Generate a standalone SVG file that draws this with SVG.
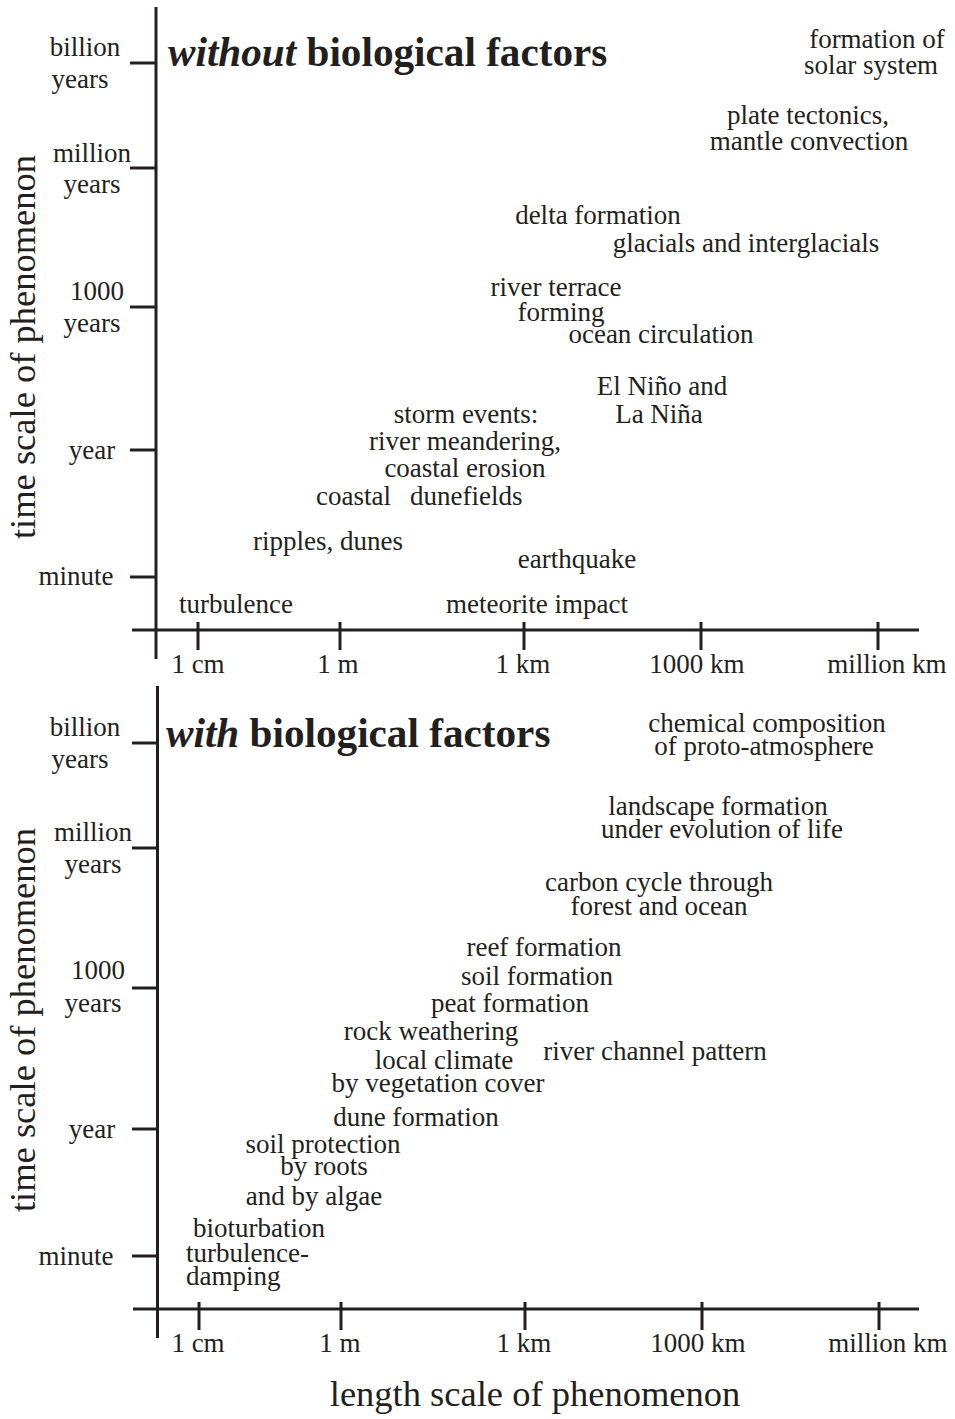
<svg xmlns="http://www.w3.org/2000/svg" width="955" height="1419" viewBox="0 0 955 1419">
<style>
.ax{stroke:#231f20;stroke-width:3;fill:none;stroke-linecap:butt}
text{font-family:"Liberation Serif","Times New Roman",serif;fill:#231f20}
.t{font-size:27px;text-anchor:middle}
.s{font-size:27px;text-anchor:start}
.ttl{font-size:41.2px;font-weight:bold}
.ttl .i{font-style:italic}
.lab{font-size:36.5px;text-anchor:middle}
</style>
<rect width="955" height="1419" fill="#ffffff"/>

<g id="top-axes" class="ax">
<line x1="156" y1="7" x2="156" y2="659"/>
<line x1="132" y1="630" x2="919" y2="630"/>
<line x1="130" y1="63" x2="156" y2="63"/>
<line x1="130" y1="168" x2="156" y2="168"/>
<line x1="130" y1="307" x2="156" y2="307"/>
<line x1="130" y1="450" x2="156" y2="450"/>
<line x1="130" y1="577" x2="156" y2="577"/>
<line x1="198" y1="622" x2="198" y2="650"/>
<line x1="340" y1="622" x2="340" y2="650"/>
<line x1="524" y1="622" x2="524" y2="650"/>
<line x1="701" y1="622" x2="701" y2="650"/>
<line x1="878" y1="622" x2="878" y2="650"/>
</g>

<g id="top-axis-labels">
<text class="t" x="85" y="56">billion</text>
<text class="t" x="80" y="88">years</text>
<text class="t" x="92" y="162">million</text>
<text class="t" x="92" y="193">years</text>
<text class="t" x="97" y="300">1000</text>
<text class="t" x="92" y="332">years</text>
<text class="t" x="92" y="459">year</text>
<text class="t" x="76" y="585">minute</text>
<text class="t" x="198" y="673">1 cm</text>
<text class="t" x="338" y="673">1 m</text>
<text class="t" x="523" y="673">1 km</text>
<text class="t" x="697" y="673">1000 km</text>
<text class="t" x="887" y="673">million km</text>
<text class="lab" transform="translate(35,347) rotate(-90)">time scale of phenomenon</text>
</g>

<g id="top-title">
<text class="ttl" x="168" y="66"><tspan class="i">without</tspan> biological factors</text>
</g>

<g id="top-phenomena">
<text class="t" x="877" y="48">formation of</text>
<text class="t" x="871" y="74">solar system</text>
<text class="t" x="808" y="124">plate tectonics,</text>
<text class="t" x="809" y="150">mantle convection</text>
<text class="t" x="598" y="224">delta formation</text>
<text class="t" x="746" y="252">glacials and interglacials</text>
<text class="t" x="556" y="296">river terrace</text>
<text class="t" x="561" y="321">forming</text>
<text class="t" x="661" y="343">ocean circulation</text>
<text class="t" x="662" y="395">El Niño and</text>
<text class="t" x="659" y="423">La Niña</text>
<text class="t" x="466" y="423">storm events:</text>
<text class="t" x="465" y="450">river meandering,</text>
<text class="t" x="465" y="477">coastal erosion</text>
<text class="s" x="316" y="505">coastal</text>
<text class="s" x="410" y="505">dunefields</text>
<text class="t" x="328" y="550">ripples, dunes</text>
<text class="t" x="577" y="568">earthquake</text>
<text class="t" x="236" y="613">turbulence</text>
<text class="t" x="537" y="613">meteorite impact</text>
</g>

<g id="bottom-axes" class="ax">
<line x1="157.5" y1="686" x2="157.5" y2="1338"/>
<line x1="133" y1="1309" x2="919" y2="1309"/>
<line x1="132" y1="743" x2="157.5" y2="743"/>
<line x1="132" y1="848" x2="157.5" y2="848"/>
<line x1="132" y1="988" x2="157.5" y2="988"/>
<line x1="132" y1="1129" x2="157.5" y2="1129"/>
<line x1="132" y1="1256" x2="157.5" y2="1256"/>
<line x1="199" y1="1302" x2="199" y2="1330"/>
<line x1="341" y1="1302" x2="341" y2="1330"/>
<line x1="525" y1="1302" x2="525" y2="1330"/>
<line x1="702" y1="1302" x2="702" y2="1330"/>
<line x1="879" y1="1302" x2="879" y2="1330"/>
</g>

<g id="bottom-axis-labels">
<text class="t" x="85" y="736">billion</text>
<text class="t" x="80" y="768">years</text>
<text class="t" x="93" y="841">million</text>
<text class="t" x="93" y="873">years</text>
<text class="t" x="98" y="979">1000</text>
<text class="t" x="93" y="1012">years</text>
<text class="t" x="92" y="1138">year</text>
<text class="t" x="76" y="1265">minute</text>
<text class="t" x="198" y="1352">1 cm</text>
<text class="t" x="340" y="1352">1 m</text>
<text class="t" x="524" y="1352">1 km</text>
<text class="t" x="698" y="1352">1000 km</text>
<text class="t" x="888" y="1352">million km</text>
<text class="lab" transform="translate(35,1020) rotate(-90)">time scale of phenomenon</text>
<text class="lab" x="535" y="1406">length scale of phenomenon</text>
</g>

<g id="bottom-title">
<text class="ttl" x="166" y="747"><tspan class="i">with</tspan> biological factors</text>
</g>

<g id="bottom-phenomena">
<text class="t" x="767" y="732">chemical composition</text>
<text class="t" x="764" y="755">of proto-atmosphere</text>
<text class="t" x="718" y="815">landscape formation</text>
<text class="t" x="722" y="838">under evolution of life</text>
<text class="t" x="659" y="891">carbon cycle through</text>
<text class="t" x="659" y="915">forest and ocean</text>
<text class="t" x="544" y="956">reef formation</text>
<text class="t" x="537" y="985">soil formation</text>
<text class="t" x="510" y="1012">peat formation</text>
<text class="t" x="431" y="1040">rock weathering</text>
<text class="t" x="444" y="1069">local climate</text>
<text class="t" x="438" y="1092">by vegetation cover</text>
<text class="t" x="655" y="1060">river channel pattern</text>
<text class="t" x="416" y="1126">dune formation</text>
<text class="t" x="323" y="1153">soil protection</text>
<text class="t" x="324" y="1175">by roots</text>
<text class="t" x="314" y="1205">and by algae</text>
<text class="t" x="259" y="1237">bioturbation</text>
<text class="s" x="186" y="1262">turbulence-</text>
<text class="s" x="186" y="1285">damping</text>
</g>
</svg>
